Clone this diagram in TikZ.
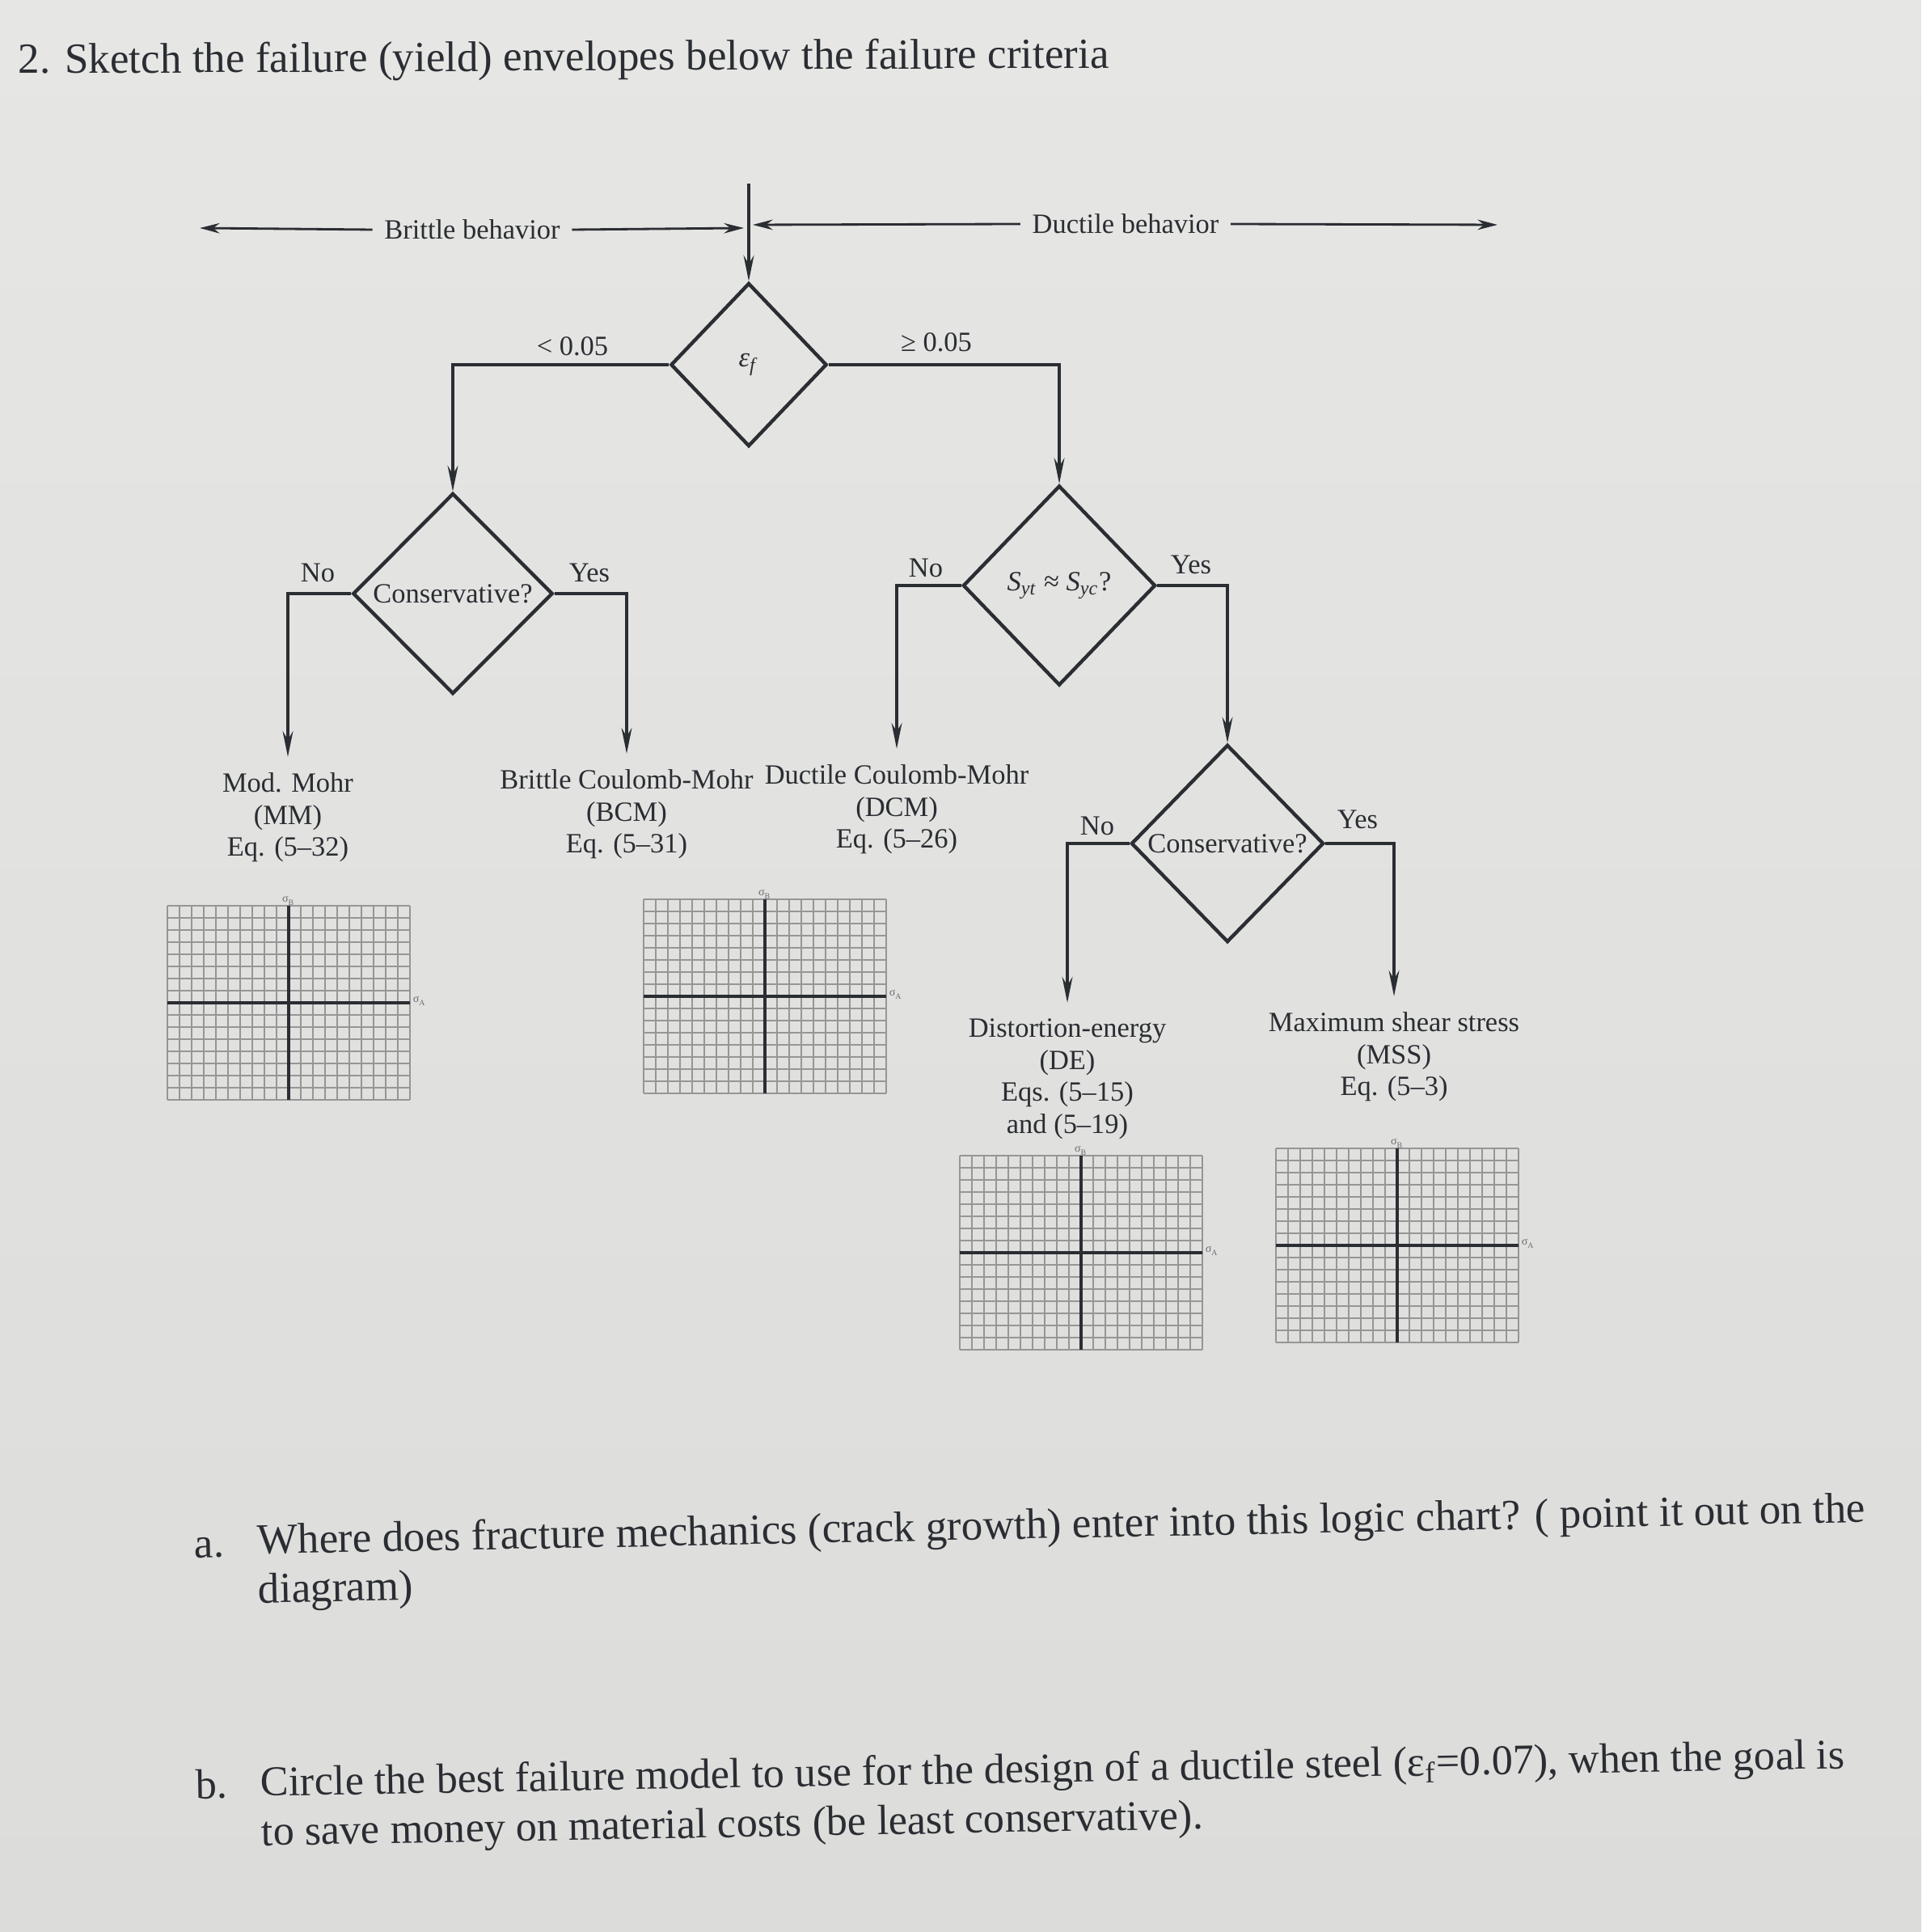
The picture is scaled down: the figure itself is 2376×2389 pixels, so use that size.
\documentclass[tikz,border=0pt]{standalone}
\usepackage{fontspec}
\setmainfont{Liberation Serif}
\usetikzlibrary{shapes.geometric,arrows.meta}
\definecolor{paper}{RGB}{226,226,224}
\definecolor{papertop}{RGB}{230,230,228}
\definecolor{paperbot}{RGB}{220,220,218}
\definecolor{ink}{RGB}{42,45,50}
\definecolor{gridc}{RGB}{150,150,150}
\newcommand\dfont{\fontsize{9.8}{11.2}\selectfont}
\newcommand\qfont{\fontsize{15.1}{17.07}\selectfont}
\newcommand\qbfont{\fontsize{14.85}{17.36}\selectfont}
\newcommand\sketchgrid[3]{%
  \foreach \i in {0,...,20} \draw[gridline] (#1+\i*15,#2) -- (#1+\i*15,#2+240);
  \foreach \j in {0,...,16} \draw[gridline] (#1,#2+\j*15) -- (#1+300,#2+\j*15);
  \draw[axisline] (#1+150,#2) -- (#1+150,#2+240);
  \draw[axisline] (#1,#2+120) -- (#1+300,#2+120);
  \node[axlab] (#3b) at (#1+150,#2-6) {σ\textsubscript{B}};
  \node[axlab] (#3a) at (#1+312,#2+118) {σ\textsubscript{A}};
}
\begin{document}
\begin{tikzpicture}[x=0.01cm,y=-0.01cm,
  dia/.style={diamond, draw=ink, line width=1.25pt, inner sep=0pt, aspect=1, text=ink, font=\dfont},
  conn/.style={draw=ink, line width=1.25pt, -{Stealth[length=9pt,width=3.6pt]}},
  harr/.style={draw=ink, line width=0.8pt, -{Stealth[length=7pt,width=3.6pt]}},
  lbl/.style={text=ink, font=\dfont, align=center, inner xsep=2pt, inner ysep=5.5pt, anchor=north},
  tag/.style={text=ink, font=\dfont, inner sep=0pt},
  hlab/.style={text=ink, font=\dfont, inner xsep=4pt, inner ysep=1pt},
  gridline/.style={draw=gridc, line width=0.75pt},
  axisline/.style={draw=ink, line width=0.9pt},
  axlab/.style={text=ink!70, font=\fontsize{4}{4}\selectfont, inner sep=0pt},
  qtext/.style={text=ink, font=\qfont, inner sep=0pt, anchor=base west, align=left},
  qbtext/.style={text=ink, font=\qbfont, inner sep=0pt, anchor=base west, align=left}]
\shade[top color=papertop, bottom color=paperbot] (0,0) rectangle (2376,2389);
\useasboundingbox (0,0) rectangle (2376,2389);

% title
\node[qtext, rotate=0.3] (title) at (22,91) {2. Sketch the failure (yield) envelopes below the failure criteria};

% top arrows
\coordinate (bL) at (247,282);
\coordinate (bR) at (920,282);
\coordinate (dL) at (931,278);
\coordinate (dR) at (1852,278);
\node[hlab] (brittle) at (584,284) {Brittle behavior};
\node[hlab] (ductile) at (1392,277) {Ductile behavior};
\draw[harr] (brittle.west) -- (bL);
\draw[harr] (brittle.east) -- (bR);
\draw[harr] (ductile.west) -- (dL);
\draw[harr] (ductile.east) -- (dR);

% diamonds
\node[dia, minimum width=1.93cm, minimum height=2.02cm] (d1) at (926,451) {\textit{ε}\textsubscript{\textit{f}}};
\node[dia, minimum width=2.47cm, minimum height=2.48cm] (c1) at (560,734) {Conservative?};
\node[dia, minimum width=2.38cm, minimum height=2.47cm] (s1) at (1310,724) {\textit{S}\textsubscript{\textit{yt}} ≈ \textit{S}\textsubscript{\textit{yc}}?};
\node[dia, minimum width=2.38cm, minimum height=2.44cm] (c2) at (1518,1043) {Conservative?};

\coordinate (top) at (926,227);
\draw[conn] (top) -- (d1.north);

% labels on branches
\node[tag] (lt) at (708,428) {< 0.05};
\node[tag] (ge) at (1158,423) {≥ 0.05};
\node[tag] (no1) at (393,708) {No};
\node[tag] (yes1) at (729,708) {Yes};
\node[tag] (no2) at (1145,702) {No};
\node[tag] (yes2) at (1473,698) {Yes};
\node[tag] (no3) at (1357,1021) {No};
\node[tag] (yes3) at (1679,1013) {Yes};

% end labels
\node[lbl] (mm) at (356,936) {Mod. Mohr\\(MM)\\Eq. (5–32)};
\node[lbl] (bcm) at (775,932) {Brittle Coulomb-Mohr\\(BCM)\\Eq. (5–31)};
\node[lbl] (dcm) at (1109,926) {Ductile Coulomb-Mohr\\(DCM)\\Eq. (5–26)};
\node[lbl] (de) at (1320,1240) {Distortion-energy\\(DE)\\Eqs. (5–15)\\and (5–19)};
\node[lbl] (mss) at (1724,1232) {Maximum shear stress\\(MSS)\\Eq. (5–3)};

% connectors
\draw[conn] (d1.west) -| (c1.north);
\draw[conn] (d1.east) -| (s1.north);
\draw[conn] (c1.west) -| (mm.north);
\draw[conn] (c1.east) -| (bcm.north);
\draw[conn] (s1.west) -| (dcm.north);
\draw[conn] (s1.east) -| (c2.north);
\draw[conn] (c2.west) -| (de.north);
\draw[conn] (c2.east) -| (mss.north);

% grids
\sketchgrid{207}{1120}{ga}
\sketchgrid{796}{1112}{gb}
\sketchgrid{1187}{1429}{gc}
\sketchgrid{1578}{1420}{gd}

% questions (anchor = baseline of the last line)
\node[qtext, rotate=1.15] (qa) at (240,1926) {a.};
\node[qtext, rotate=1.15] (qatext) at (319,1982) {Where does fracture mechanics (crack growth) enter into this logic chart? ( point it out on the\\diagram)};
\node[qbtext, rotate=1.0] (qb) at (242,2224) {b.};
\node[qbtext, rotate=1.0] (qbtext) at (323,2282) {Circle the best failure model to use for the design of a ductile steel (ε\textsubscript{f}=0.07), when the goal is\\to save money on material costs (be least conservative).};
\end{tikzpicture}
\end{document}
